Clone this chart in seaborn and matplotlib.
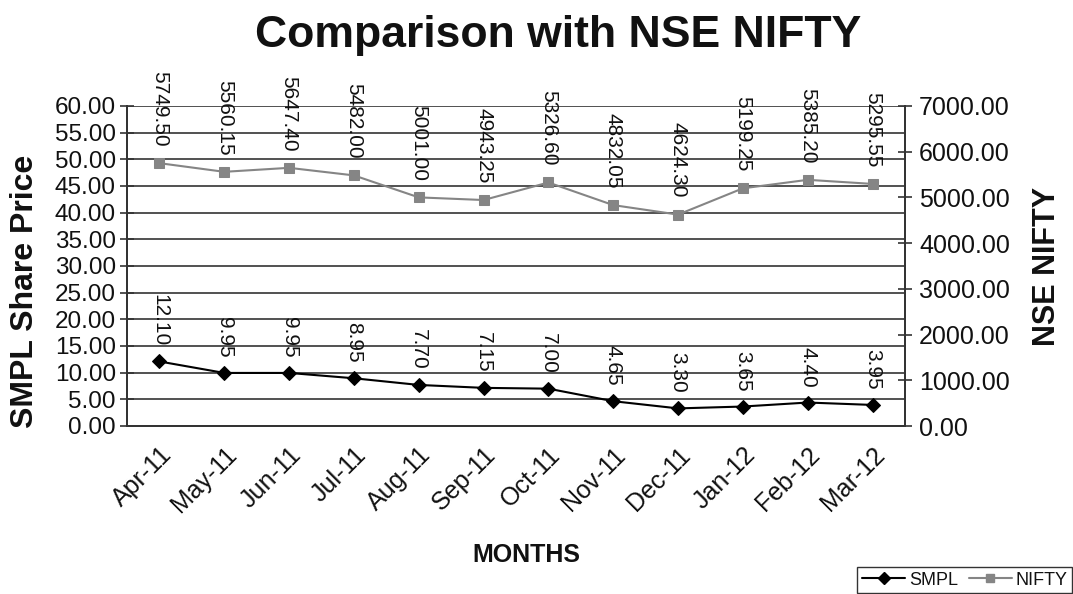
import numpy as np
import pandas as pd
import seaborn as sns
import matplotlib.pyplot as plt
from matplotlib.lines import Line2D

months = ["Apr-11", "May-11", "Jun-11", "Jul-11", "Aug-11", "Sep-11",
          "Oct-11", "Nov-11", "Dec-11", "Jan-12", "Feb-12", "Mar-12"]
smpl = [12.10, 9.95, 9.95, 8.95, 7.70, 7.15, 7.00, 4.65, 3.30, 3.65, 4.40, 3.95]
nifty = [5749.50, 5560.15, 5647.40, 5482.00, 5001.00, 4943.25,
         5326.60, 4832.05, 4624.30, 5199.25, 5385.20, 5295.55]

df = pd.DataFrame({"pos": np.arange(len(months)), "month": months,
                   "SMPL": smpl, "NIFTY": nifty})

sns.set_style("white")
plt.rcParams["font.family"] = ["Liberation Sans", "DejaVu Sans"]
plt.rcParams["text.color"] = "#111111"
plt.rcParams["xtick.color"] = "#111111"
plt.rcParams["ytick.color"] = "#111111"
plt.rcParams["axes.labelcolor"] = "#111111"

fig = plt.figure(figsize=(10.73, 5.94), dpi=100)
ax = fig.add_axes([127 / 1073, 1 - 426 / 594, 778 / 1073, 320 / 594])
ax2 = ax.twinx()

sns.lineplot(data=df, x="pos", y="SMPL", ax=ax, color="black", marker="D",
             markersize=7, markeredgecolor="black", linewidth=1.5, zorder=5)
sns.lineplot(data=df, x="pos", y="NIFTY", ax=ax2, color="#858585", marker="s",
             markersize=7, markeredgecolor="#858585", linewidth=1.5, zorder=5)

ax.set_xlim(-0.5, len(months) - 0.5)
ax.set_ylim(0, 60)
ax.set_yticks(np.arange(0, 61, 5))
ax.set_yticklabels([f"{v:.2f}" for v in np.arange(0, 61, 5)], fontsize=17.5)
ax2.set_ylim(0, 7000)
ax2.set_yticks(np.arange(0, 7001, 1000))
ax2.set_yticklabels([f"{v:.2f}" for v in np.arange(0, 7001, 1000)], fontsize=18)

ax.set_xticks(df["pos"])
ax.set_xticklabels(months, rotation=45, ha="right", rotation_mode="anchor", fontsize=18)
ax.set_xticks(np.arange(-0.5, len(months)), minor=True)
ax.tick_params(axis="x", which="major", length=0, pad=12)
ax.tick_params(axis="x", which="minor", length=7, direction="out", width=1.2, color="#333333")
ax.tick_params(axis="y", length=10, direction="inout", width=1.2, color="#333333", pad=3)
ax2.tick_params(axis="y", length=10, direction="inout", width=1.2, color="#333333", pad=5)

ax.grid(axis="y", color="#333333", linewidth=1.2)
ax.set_axisbelow(True)
for sp in ["top"]:
    ax.spines[sp].set_visible(False)
    ax2.spines[sp].set_visible(False)
for a in (ax, ax2):
    for sp in ["left", "bottom", "right"]:
        a.spines[sp].set_color("#333333")
        a.spines[sp].set_linewidth(1.3)

for x, y in zip(df["pos"], smpl):
    ax.annotate(f"{y:.2f}", (x, y), xytext=(0, 11), textcoords="offset points",
                rotation=-90, ha="center", va="bottom", fontsize=15)
for x, y in zip(df["pos"], nifty):
    ax2.annotate(f"{y:.2f}", (x, y), xytext=(0, 12), textcoords="offset points",
                 rotation=-90, ha="center", va="bottom", fontsize=15)

ax.set_xlabel("MONTHS", fontsize=18, fontweight="bold")
ax.xaxis.set_label_coords(0.513, -0.365)
ax.set_ylabel("SMPL Share Price", fontsize=23, fontweight="bold")
ax.yaxis.set_label_coords(-0.112, 0.42)
ax2.set_ylabel("NSE NIFTY", fontsize=22, fontweight="bold", labelpad=16)
fig.suptitle("Comparison with NSE NIFTY", fontsize=32, fontweight="bold",
             x=0.52, y=0.975)

handles = [Line2D([], [], color="black", marker="D", markersize=6, linewidth=1.5),
           Line2D([], [], color="#858585", marker="s", markersize=6, linewidth=1.5)]
leg = fig.legend(handles, ["SMPL", "NIFTY"], loc="lower right", ncol=2,
                 bbox_to_anchor=(1.0, 0.0), fontsize=13, frameon=True, fancybox=False,
                 edgecolor="black", handlelength=2.4, columnspacing=0.6,
                 handletextpad=0.2, borderpad=0.25, borderaxespad=0.05)
leg.get_frame().set_linewidth(1.0)

fig.savefig("out.png", dpi=100)
